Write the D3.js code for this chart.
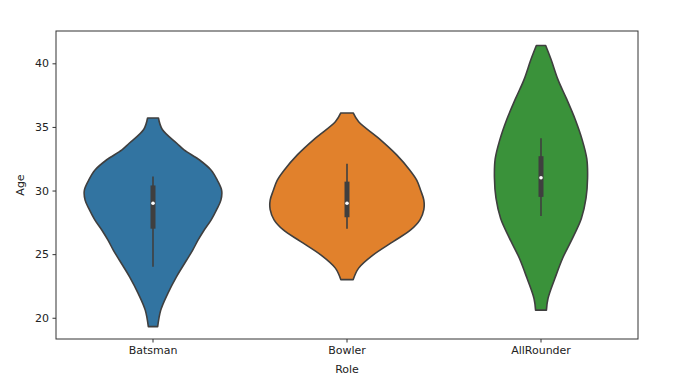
<!DOCTYPE html>
<html>
<head>
<meta charset="utf-8">
<script src="https://cdn.jsdelivr.net/npm/d3@7"></script>
<style>
  body { margin: 0; background: #fff; }
  text { font-family: "DejaVu Sans", sans-serif; }
</style>
</head>
<body>
<div id="chart"></div>
<script>
// Role categories (x axis)
const roles = ["Batsman", "Bowler", "AllRounder"];
const COLORS = ["#3274a1", "#e1812c", "#3a923a"];
const y_ticks = [20, 25, 30, 35, 40];

// Violin outlines: age -> relative density
const batsman_ages = [35.7, 34.8, 33.7, 33.2, 32.4, 31.6, 30.8, 30.0, 29.25, 28.5, 27.7, 26.9, 26.1, 25.3, 24.5, 23.2, 21.9, 20.6, 19.3];
const batsman_density = [0.07, 0.12, 0.31, 0.40, 0.60, 0.75, 0.83, 0.885, 0.875, 0.82, 0.75, 0.66, 0.58, 0.51, 0.43, 0.30, 0.19, 0.10, 0.06];

const bowler_ages = [36.1, 35.4, 34.1, 32.8, 31.6, 30.8, 30.0, 29.25, 28.5, 27.7, 26.9, 26.0, 24.9, 23.9, 23.0];
const bowler_density = [0.08, 0.15, 0.41, 0.64, 0.81, 0.90, 0.95, 0.99, 0.99, 0.94, 0.82, 0.60, 0.33, 0.15, 0.08];

const allrounder_ages = [41.4, 40.3, 38.7, 37.2, 35.6, 34.0, 32.5, 31.0, 29.4, 27.8, 26.3, 24.7, 23.1, 21.5, 20.6];
const allrounder_density = [0.06, 0.13, 0.22, 0.33, 0.44, 0.53, 0.59, 0.60, 0.58, 0.52, 0.41, 0.28, 0.18, 0.09, 0.07];

// Inner box: [whisker low, q1, median, q3, whisker high]
const batsman_box = [24.0, 27.0, 29.0, 30.4, 31.1];
const bowler_box = [27.0, 27.9, 29.0, 30.7, 32.1];
const allrounder_box = [28.0, 29.5, 31.0, 32.7, 34.1];

const violins = [
    {role: roles[0], ages: batsman_ages, density: batsman_density, box: batsman_box},
    {role: roles[1], ages: bowler_ages, density: bowler_density, box: bowler_box},
    {role: roles[2], ages: allrounder_ages, density: allrounder_density, box: allrounder_box},
];

const margin = { top: 31, right: 62, bottom: 44, left: 56 };
const width = 700 - margin.left - margin.right;
const height = 383 - margin.top - margin.bottom;

const svg = d3.select("#chart").append("svg")
    .attr("width", 700)
    .attr("height", 383)
    .append("g")
    .attr("transform", "translate(" + margin.left + "," + margin.top + ")");

const x = d3.scaleBand().domain(roles).range([0, width]);
const y = d3.scaleLinear().domain([18.33, 42.54]).range([height, 0]);
const w = d3.scaleLinear().domain([0, 1]).range([0, x.bandwidth() * 0.4]);

// Draw the violins
violins.forEach((v, i) => {
    const cx = x(v.role) + x.bandwidth() / 2;
    const pts = v.ages.map((a, j) => ({age: a, d: v.density[j]}));

    const area = d3.area()
        .y(d => y(d.age))
        .x0(d => cx - w(d.d))
        .x1(d => cx + w(d.d))
        .curve(d3.curveCatmullRom);

    svg.append("path")
        .datum(pts)
        .attr("fill", COLORS[i])
        .attr("stroke", "#3f3f3f")
        .attr("stroke-width", 1.6)
        .attr("stroke-linejoin", "round")
        .attr("d", area);

    // whiskers
    svg.append("line")
        .attr("x1", cx).attr("x2", cx)
        .attr("y1", y(v.box[0])).attr("y2", y(v.box[4]))
        .attr("stroke", "#3f3f3f")
        .attr("stroke-width", 1.6);

    // box
    svg.append("line")
        .attr("x1", cx).attr("x2", cx)
        .attr("y1", y(v.box[1])).attr("y2", y(v.box[3]))
        .attr("stroke", "#3f3f3f")
        .attr("stroke-width", 5);

    // median
    svg.append("circle")
        .attr("cx", cx)
        .attr("cy", y(v.box[2]))
        .attr("r", 1.8)
        .attr("fill", "white");
});

// Axes
const xAxis = svg.append("g")
    .attr("transform", "translate(0," + height + ")")
    .call(d3.axisBottom(x).tickSize(3.5).tickPadding(3.5));

const yAxis = svg.append("g")
    .call(d3.axisLeft(y).tickValues(y_ticks).tickSize(3.5).tickPadding(3.5));

[xAxis, yAxis].forEach(g => {
    g.select(".domain").remove();
    g.selectAll(".tick line").attr("stroke", "#333");
    g.selectAll(".tick text")
        .attr("font-size", "11px")
        .attr("fill", "#222")
        .style("font-family", "DejaVu Sans");
});

// frame
svg.append("rect")
    .attr("width", width)
    .attr("height", height)
    .attr("fill", "none")
    .attr("stroke", "#333")
    .attr("stroke-width", 1);

// Axis labels
svg.append("text")
    .attr("x", width / 2)
    .attr("y", height + 34)
    .attr("text-anchor", "middle")
    .attr("font-size", "11px")
    .attr("fill", "#222")
    .text("Role");

svg.append("text")
    .attr("transform", "translate(" + (-32) + "," + (height / 2) + ") rotate(-90)")
    .attr("text-anchor", "middle")
    .attr("font-size", "11px")
    .attr("fill", "#222")
    .text("Age");
</script>
</body>
</html>
